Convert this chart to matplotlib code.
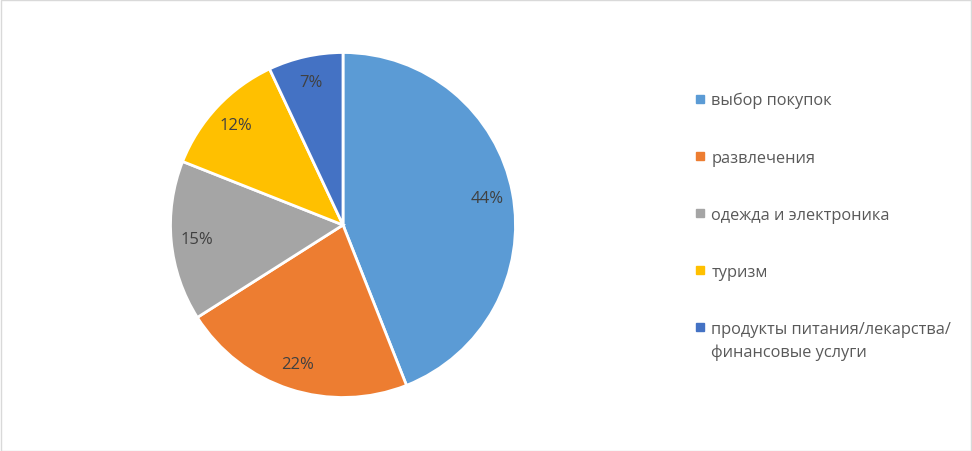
import matplotlib
matplotlib.use("Agg")
import matplotlib.pyplot as plt
from matplotlib.lines import Line2D
from matplotlib.patches import Rectangle

categories = ["выбор покупок", "развлечения", "одежда и электроника", "туризм",
              "продукты питания/лекарства/\nфинансовые услуги"]
values = [44, 22, 15, 12, 7]
colors = ["#5B9BD5", "#ED7D31", "#A5A5A5", "#FFC000", "#4472C4"]

plt.rcParams['font.family'] = ['Open Sans', 'DejaVu Sans']

W, H = 972, 452
fig = plt.figure(figsize=(W/100, H/100), dpi=100)
fig.patches.append(Rectangle((0.5/W, 0.5/H), 1 - 1.5/W, 1 - 1.5/H, transform=fig.transFigure,
                             fill=False, edgecolor="#D9D9D9", linewidth=1))

cx, cy, r = 343, 226, 172.5
ax = fig.add_axes([(cx - r)/W, (H - cy - r)/H, 2*r/W, 2*r/H])
wedges, texts = ax.pie(values, colors=colors, startangle=90, counterclock=False,
                       labels=[f"{v}%" for v in values], labeldistance=0.85,
                       wedgeprops=dict(edgecolor="white", linewidth=2),
                       textprops=dict(color="#404040", fontsize=12))
for t in texts:
    t.set_ha("center"); t.set_va("center")
ax.set_xlim(-1, 1); ax.set_ylim(-1, 1)
ax.set_aspect("equal")

# legend: first line of each label in the legend, continuation lines below
first_lines = [c.split("\n")[0] for c in categories]
handles = [Line2D([], [], marker="s", linestyle="none", markersize=5.5,
                  markerfacecolor=c, markeredgecolor=c) for c in colors]
leg = fig.legend(handles, first_lines, loc="upper left",
                 bbox_to_anchor=(695/W, 1 - 93/H), frameon=False,
                 prop=dict(size=11.8), labelcolor="#595959",
                 handlelength=0.55, handletextpad=0.45, labelspacing=2.51,
                 borderaxespad=0, borderpad=0)
fig.canvas.draw()
for cat, t in zip(categories, leg.get_texts()):
    rest = cat.split("\n")[1:]
    if rest:
        bb = t.get_window_extent()
        for i, line in enumerate(rest, start=1):
            fig.text(bb.x0 / W, (bb.y0 + bb.height / 2 - 23 * i) / H, line,
                     ha="left", va="center", fontsize=11.8, color="#595959")

fig.savefig("out.png", dpi=100, facecolor="white")
